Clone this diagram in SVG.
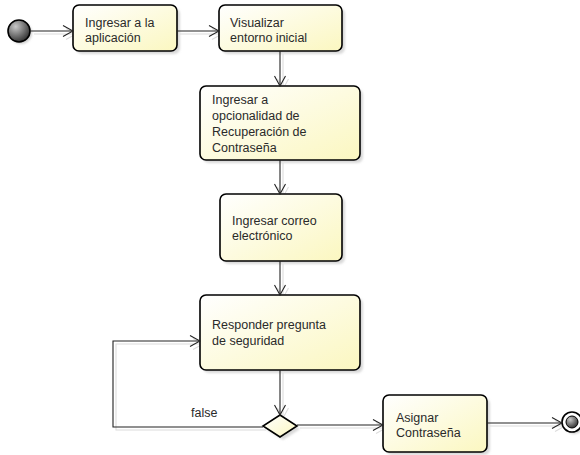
<svg xmlns="http://www.w3.org/2000/svg" width="580" height="455" viewBox="0 0 580 455">
  <style>
    .box { fill: url(#boxFill); stroke: #000; stroke-width: 1.6; }
    .shadow { fill: #d9d9d9; stroke: none; }
    .lbl { font-family: "Liberation Sans", Arial, sans-serif; font-size: 12.5px; fill: #2a2a2a; }
    .edge { fill: none; stroke: #222; stroke-width: 1.1; }
    .edge-ghost { fill: none; stroke: #dcdcdc; stroke-width: 1.1; }
  </style>
  <defs>
    <linearGradient id="boxFill" x1="0" y1="0" x2="1" y2="1">
      <stop offset="0" stop-color="#ffffff"/>
      <stop offset="1" stop-color="#fbf7c0"/>
    </linearGradient>
    <radialGradient id="ballFill" cx="0.35" cy="0.3" r="0.75">
      <stop offset="0" stop-color="#c8c8c8"/>
      <stop offset="1" stop-color="#2e2e2e"/>
    </radialGradient>
    <filter id="soft" x="-20%" y="-20%" width="140%" height="140%">
      <feGaussianBlur stdDeviation="1.2"/>
    </filter>
    <marker id="open" markerWidth="12" markerHeight="12" refX="11" refY="6" orient="auto" markerUnits="userSpaceOnUse">
      <path d="M1,0.5 L11,6 L1,11.5" fill="none" stroke="#222" stroke-width="1.1"/>
    </marker>
    <marker id="openGhost" markerWidth="12" markerHeight="12" refX="11" refY="6" orient="auto" markerUnits="userSpaceOnUse">
      <path d="M1,0.5 L11,6 L1,11.5" fill="none" stroke="#dcdcdc" stroke-width="1.1"/>
    </marker>
  </defs>

  <rect width="580" height="455" fill="#ffffff"/>

  <!-- connector shadows -->
  <g id="connector-shadows" transform="translate(3,3)">
    <path class="edge-ghost" marker-end="url(#openGhost)" d="M31,31 H73"/>
    <path class="edge-ghost" marker-end="url(#openGhost)" d="M177,31 H219"/>
    <path class="edge-ghost" marker-end="url(#openGhost)" d="M280,51 V86"/>
    <path class="edge-ghost" marker-end="url(#openGhost)" d="M280,160 V194"/>
    <path class="edge-ghost" marker-end="url(#openGhost)" d="M280,261 V295"/>
    <path class="edge-ghost" marker-end="url(#openGhost)" d="M280,370 V415"/>
    <path class="edge-ghost" marker-end="url(#openGhost)" d="M263,427 H113 V341 H200"/>
    <path class="edge-ghost" marker-end="url(#openGhost)" d="M297,425 H383"/>
    <path class="edge-ghost" marker-end="url(#openGhost)" d="M487,423 H562"/>
  </g>

  <!-- start -->
  <g id="start">
    <circle cx="21" cy="33" r="11" fill="#d0d0d0" filter="url(#soft)"/>
    <circle cx="19" cy="31" r="11" fill="url(#ballFill)" stroke="#000" stroke-width="1.6"/>
  </g>

  <g id="ingresar-aplicacion">
    <rect class="shadow" x="76" y="8" width="104" height="46" rx="6" filter="url(#soft)"/>
    <rect class="box" x="73" y="5" width="104" height="46" rx="6"/>
    <text class="lbl" x="85" y="27">Ingresar a la</text>
    <text class="lbl" x="85" y="42">aplicación</text>
  </g>

  <g id="visualizar-entorno">
    <rect class="shadow" x="222" y="8" width="123" height="46" rx="6" filter="url(#soft)"/>
    <rect class="box" x="219" y="5" width="123" height="46" rx="6"/>
    <text class="lbl" x="230" y="27">Visualizar</text>
    <text class="lbl" x="230" y="42">entorno inicial</text>
  </g>

  <g id="recuperacion">
    <rect class="shadow" x="203" y="89" width="160" height="74" rx="6" filter="url(#soft)"/>
    <rect class="box" x="200" y="86" width="160" height="74" rx="6"/>
    <text class="lbl" x="212" y="104">Ingresar a</text>
    <text class="lbl" x="212" y="120">opcionalidad de</text>
    <text class="lbl" x="212" y="136">Recuperación de</text>
    <text class="lbl" x="212" y="152">Contraseña</text>
  </g>

  <g id="correo">
    <rect class="shadow" x="223" y="197" width="122" height="67" rx="6" filter="url(#soft)"/>
    <rect class="box" x="220" y="194" width="122" height="67" rx="6"/>
    <text class="lbl" x="232" y="225">Ingresar correo</text>
    <text class="lbl" x="232" y="240">electrónico</text>
  </g>

  <g id="pregunta">
    <rect class="shadow" x="203" y="298" width="160" height="75" rx="6" filter="url(#soft)"/>
    <rect class="box" x="200" y="295" width="160" height="75" rx="6"/>
    <text class="lbl" x="212" y="329">Responder pregunta</text>
    <text class="lbl" x="212" y="345">de seguridad</text>
  </g>

  <g id="decision">
    <polygon class="shadow" points="283,418 300,429 283,440 266,429" filter="url(#soft)"/>
    <polygon class="box" points="280,415 297,426 280,437 263,426"/>
  </g>

  <g id="asignar">
    <rect class="shadow" x="386" y="398" width="104" height="57" rx="6" filter="url(#soft)"/>
    <rect class="box" x="383" y="395" width="104" height="57" rx="6"/>
    <text class="lbl" x="396" y="422">Asignar</text>
    <text class="lbl" x="396" y="437">Contraseña</text>
  </g>

  <!-- end -->
  <g id="end">
    <circle cx="574" cy="424" r="10" fill="#d0d0d0" filter="url(#soft)"/>
    <circle cx="572" cy="422" r="10" fill="#ffffff" stroke="#000" stroke-width="1.6"/>
    <circle cx="572" cy="422" r="6" fill="url(#ballFill)" stroke="#000" stroke-width="1"/>
  </g>

  <!-- connectors -->
  <g id="connectors">
    <path class="edge" marker-end="url(#open)" d="M30,31 H73"/>
    <path class="edge" marker-end="url(#open)" d="M177,31 H219"/>
    <path class="edge" marker-end="url(#open)" d="M280,51 V86"/>
    <path class="edge" marker-end="url(#open)" d="M280,160 V194"/>
    <path class="edge" marker-end="url(#open)" d="M280,261 V295"/>
    <path class="edge" marker-end="url(#open)" d="M280,370 V415"/>
    <path class="edge" marker-end="url(#open)" d="M263,427 H113 V341 H200"/>
    <text class="lbl" x="191" y="417">false</text>
    <path class="edge" marker-end="url(#open)" d="M297,425 H383"/>
    <path class="edge" marker-end="url(#open)" d="M487,423 H562"/>
  </g>
</svg>
